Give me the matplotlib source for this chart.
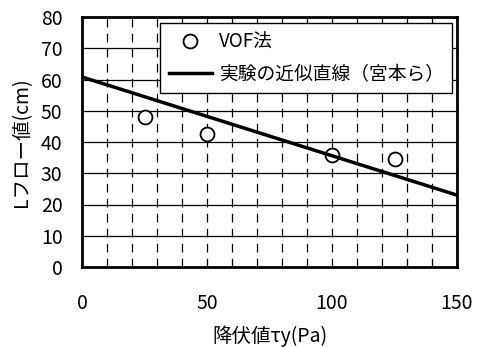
import numpy as np
import matplotlib
matplotlib.use('Agg')
import matplotlib.pyplot as plt

plt.rcParams['font.family'] = ['Noto Sans CJK JP', 'DejaVu Sans']

# VOF results
tau_vof = [25, 50, 100, 125]
flow_vof = [48, 42.5, 36, 34.7]

# approximate line from experiment (Miyamoto et al.)
tau_line = [0, 150]
flow_line = [60.8, 23]

fig = plt.figure(figsize=(4.78, 3.47), dpi=100)
ax = fig.add_axes([82 / 478, 80 / 347, 375 / 478, 250 / 347])

ax.plot(tau_vof, flow_vof, 'o', markersize=10, markerfacecolor='white',
        markeredgecolor='black', markeredgewidth=1.3, linestyle='none', label='VOF法')
ax.plot(tau_line, flow_line, color='black', linewidth=2.5, label='実験の近似直線（宮本ら）')

ax.set_xlim(0, 150)
ax.set_ylim(0, 80)
ax.set_xticks([0, 50, 100, 150])
ax.set_yticks(np.arange(0, 81, 10))

for xv in np.arange(10, 150, 10):
    ax.axvline(xv, color='black', linewidth=0.9, linestyle=(0, (7, 5)), zorder=0)
for yv in np.arange(10, 80, 10):
    ax.axhline(yv, color='black', linewidth=0.9, zorder=0)

ax.tick_params(axis='x', length=0, pad=19, labelsize=14)
ax.tick_params(axis='y', length=0, pad=14, labelsize=14)
for s in ax.spines.values():
    s.set_linewidth(2)

ax.set_xlabel('降伏値τy(Pa)', fontsize=14, labelpad=8)
ax.set_ylabel('Lフロー値(cm)', fontsize=14, labelpad=6)

leg = ax.legend(loc='upper right', fontsize=13.5, frameon=True, fancybox=False,
                edgecolor='black', framealpha=1, borderpad=0.45, handlelength=2.3,
                handletextpad=0.37, labelspacing=0.6, borderaxespad=0,
                bbox_to_anchor=(0.987, 0.975))
leg.get_frame().set_linewidth(1)

fig.savefig('out.png', dpi=100)
